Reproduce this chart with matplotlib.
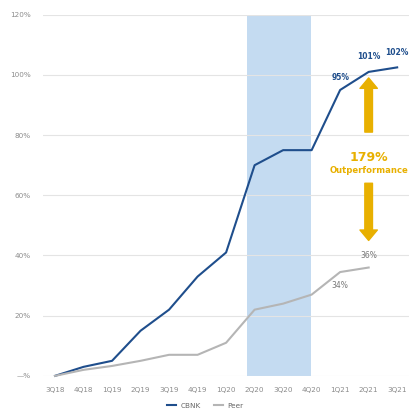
import matplotlib
matplotlib.use("Agg")
import matplotlib.pyplot as plt

quarters = ["3Q18", "4Q18", "1Q19", "2Q19", "3Q19", "4Q19", "1Q20", "2Q20",
            "3Q20", "4Q20", "1Q21", "2Q21", "3Q21"]
cbnk = [0, 3, 5, 15, 22, 33, 41, 70, 75, 75, 95, 101, 102.5]
peer = [0, 2, 3.3, 5, 7, 7, 11, 22, 24, 27, 34.5, 36]
yticks = [0, 20, 40, 60, 80, 100, 120]
ytick_labels = ["—%", "20%", "40%", "60%", "80%", "100%", "120%"]
shade_span = (6.72, 8.97)

NAVY = "#1f4e8c"
GRAY = "#b5b5b5"
GOLD = "#e8b000"
SHADE = "#c4dbf1"

fig = plt.figure(figsize=(4.10, 4.09), dpi=100)
ax = fig.add_axes([0.105, 0.081, 0.895, 0.883])

x = list(range(len(quarters)))
ax.axvspan(*shade_span, color=SHADE, zorder=1, lw=0)
ax.plot(x, cbnk, color=NAVY, lw=1.5, zorder=3, label="CBNK", clip_on=False)
ax.plot(x[:len(peer)], peer, color=GRAY, lw=1.5, zorder=3, label="Peer", clip_on=False)

ax.set_xlim(-0.42, 12.45)
ax.set_ylim(0, 120)
ax.set_yticks(yticks)
ax.set_yticklabels(ytick_labels)
ax.set_xticks(x)
ax.set_xticklabels(quarters)
ax.tick_params(axis="both", length=0, labelsize=5.2, labelcolor="#8c8c8c")
ax.tick_params(axis="y", pad=9)
ax.tick_params(axis="x", pad=8)
ax.grid(axis="y", color="#e4e4e4", lw=0.8, zorder=0)
for s in ax.spines.values():
    s.set_visible(False)

# data labels
ax.text(x[10], cbnk[10] + 2.5, "95%", color=NAVY, fontsize=5.5, fontweight="bold", ha="center", va="bottom")
ax.text(x[11], cbnk[11] + 3.5, "101%", color=NAVY, fontsize=5.5, fontweight="bold", ha="center", va="bottom")
ax.text(x[12], cbnk[12] + 3.5, "102%", color=NAVY, fontsize=5.5, fontweight="bold", ha="center", va="bottom")
ax.text(x[10], peer[10] - 3, "34%", color="#777777", fontsize=5.5, ha="center", va="top")
ax.text(x[11], peer[11] + 2.5, "36%", color="#777777", fontsize=5.5, ha="center", va="bottom")

# arrows
arrow_style = dict(facecolor=GOLD, edgecolor=GOLD, width=5.5, headwidth=12.5, headlength=7.5)
ax.annotate("", xy=(11.0, 99), xytext=(11.0, 81), arrowprops=arrow_style, zorder=4)
ax.annotate("", xy=(11.0, 45), xytext=(11.0, 64), arrowprops=arrow_style, zorder=4)
ax.text(11.0, 72.5, "179%", color=GOLD, fontsize=9, fontweight="bold", ha="center", va="center")
ax.text(11.0, 68.3, "Outperformance", color=GOLD, fontsize=6.1, fontweight="bold", ha="center", va="center")

leg = fig.legend(loc="lower center", bbox_to_anchor=(0.5, -0.015), ncol=2, frameon=False,
                 fontsize=5.2, handlelength=1.3, columnspacing=1.8, handletextpad=0.6)
for t in leg.get_texts():
    t.set_color("#666666")

fig.savefig("out.png", dpi=100)
